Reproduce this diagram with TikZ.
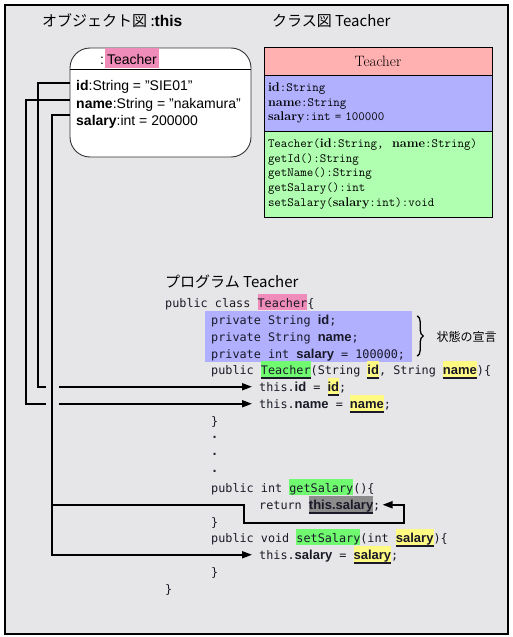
\documentclass[tikz,border=0pt]{standalone}
\usepackage{fontspec}
\newfontfamily\jpfont{Noto Sans CJK JP}
\newfontfamily\sansfont{Liberation Sans}
\newfontfamily\codefont{DejaVu Sans Mono}
\usetikzlibrary{arrows.meta,decorations.pathreplacing}
\definecolor{paper}{RGB}{230,230,232}
\definecolor{ink}{RGB}{25,25,40}
\definecolor{objpink}{RGB}{240,140,185}
\definecolor{clshead}{RGB}{255,176,176}
\definecolor{clsattr}{RGB}{176,176,255}
\definecolor{clsmeth}{RGB}{176,255,176}
\definecolor{codegreen}{RGB}{112,250,112}
\definecolor{codeyellow}{RGB}{255,250,130}
\definecolor{codegray}{RGB}{140,140,140}
\newcommand{\kw}[1]{{\sansfont\bfseries\fontsize{13}{15}\selectfont #1}}
\newcommand{\cb}[1]{{\rmfamily\bfseries #1}}
\newcommand{\mk}[2]{{\setlength{\fboxsep}{0pt}\colorbox{#1}{\rule[-3pt]{0pt}{16pt}#2}}}
\newcommand{\mku}[2]{\vtop{\hbox{\mk{#1}{#2}}\hrule height 1.5pt}}
\begin{document}
\begin{tikzpicture}[x=1pt, y=-1pt,
	title/.style={anchor=base west, inner sep=0pt, font=\jpfont\fontsize{15}{18}\selectfont},
	objtext/.style={anchor=base west, inner xsep=6pt, inner ysep=0pt, font=\sansfont\fontsize{14}{16}\selectfont},
	clsbox/.style={draw, line width=1pt, text width=220pt, inner xsep=4pt, inner ysep=0pt, font=\ttfamily\fontsize{12.6}{14.8}\selectfont},
	code/.style={anchor=base west, inner sep=0pt, font=\codefont\fontsize{11.8}{14}\selectfont, text=ink},
	link/.style={line width=1.8pt, -{Triangle[length=10pt,width=7pt]}, shorten >=7pt}]
	\useasboundingbox (0,0) rectangle (513,637);
	\draw[fill=paper, line width=1.2pt] (5,5) rectangle (508,634);

	\node[title] (objtitle) at (42,27) {オブジェクト図 :{\sansfont\bfseries\fontsize{15.5}{18}\selectfont this}};
	\node[title] (clstitle) at (272,27) {クラス図 Teacher};
	\node[title] (progtitle) at (165,287) {プログラム Teacher};

	\node[draw=black!80, fill=white, line width=0.9pt, rounded corners=20pt, minimum width=181pt, minimum height=109pt] (obj) at (160.5,102.5) {};
	\draw[line width=0.9pt] (obj.west |- 0,69) -- (obj.east |- 0,69);
	\node[anchor=base west, inner sep=0pt, font=\sansfont\fontsize{14}{16}\selectfont] (objhead) at (100,64) {:\hspace{1pt}{\setlength{\fboxsep}{0pt}\colorbox{objpink}{\rule[-4pt]{0pt}{20pt}\hspace{2pt}Teacher\hspace{2pt}}}};
	\node[objtext] (objid) at (70,90.5) {\textbf{id}:String = ”SIE01”};
	\node[objtext] (objname) at (70,108) {\textbf{name}:String = ”nakamura”};
	\node[objtext] (objsal) at (70,125.5) {\textbf{salary}:int = 200000};

	\node[clsbox, fill=clshead, minimum height=28pt, align=center, font=\rmfamily\fontsize{15}{17}\selectfont] (chead) at (378,61) {Teacher};
	\node[clsbox, fill=clsattr, minimum height=56pt, align=left] (cattr) at (378,103) {\cb{id}:String\\\cb{name}:String\\\cb{salary}:int = 100000};
	\node[clsbox, fill=clsmeth, minimum height=86pt, align=left] (cmeth) at (378,174) {Teacher(\cb{id}:String,\ \ \cb{name}:String)\\getId():String\\getName():String\\getSalary():int\\setSalary(\cb{salary}:int):void};

	\node[fill=clsattr, inner sep=0pt, minimum width=207pt, minimum height=51pt] (decl) at (308.5,336.5) {};
	\draw[decorate, decoration={brace, amplitude=6pt}, line width=1.3pt] ([xshift=5pt,yshift=-5pt]decl.north east) -- ([xshift=5pt,yshift=6pt]decl.south east);
	\node[anchor=west, font=\jpfont\fontsize{12}{14}\selectfont] (state) at (433,337) {状態の宣言};

	\node[code] (cls) at (165,307) {public class \mk{objpink}{Teacher}\{};
	\node[code] (decla) at (211,324) {private String \kw{id};};
	\node[code] (declb) at (211,341) {private String \kw{name};};
	\node[code] (declc) at (211,358) {private int \kw{salary} = 100000;};
	\node[code] (ctor) at (211,374) {public \mku{codegreen}{Teacher}(String \mku{codeyellow}{\kw{id}}, String \mku{codeyellow}{\kw{name}})\{};
	\node[code] (thisid) at (259,391) {this.\kw{id} = \mku{codeyellow}{\kw{id}};};
	\node[code] (thisname) at (259,408) {this.\kw{name} = \mku{codeyellow}{\kw{name}};};
	\node[code] (endctor) at (211,425) {\}};
	\node[code] (dota) at (211,441) {{\bfseries ·}};
	\node[code] (dotb) at (211,458) {{\bfseries ·}};
	\node[code] (dotc) at (211,475) {{\bfseries ·}};
	\node[code] (getter) at (211,492) {public int \mk{codegreen}{getSalary}()\{};
	\node[code] (retsal) at (259,509) {return \mku{codegray}{\kw{this.salary}};};
	\node[code] (endget) at (211,526) {\}};
	\node[code] (setter) at (211,542) {public void \mk{codegreen}{setSalary}(int \mku{codeyellow}{\kw{salary}})\{};
	\node[code] (thissal) at (259,559) {this.\kw{salary} = \mku{codeyellow}{\kw{salary}};};
	\node[code] (endset) at (211,576) {\}};
	\node[code] (endcls) at (165,593) {\}};

	\coordinate (sx) at ([xshift=-18pt,yshift=6.5pt]objsal.west);
	\draw[link] ([yshift=3.5pt]objid.west) -- ++(-32,0) |- (thisid.west);
	\draw[link] ([yshift=4.5pt]objname.west) -- ++(-44,0) |- (thisname.west);
	\draw[paper, line width=13pt] ([yshift=6pt]sx |- thisid.west) -- ([yshift=-6pt]sx |- thisname.west);
	\draw[link] ([yshift=6.5pt]objsal.west) -- (sx) |- (thissal.west);
	\draw[link, shorten >=2pt] (sx |- retsal.west) -- ++(192,0) -- ++(0,18) -- ++(160,0) |- (retsal.east);
\end{tikzpicture}
\end{document}
